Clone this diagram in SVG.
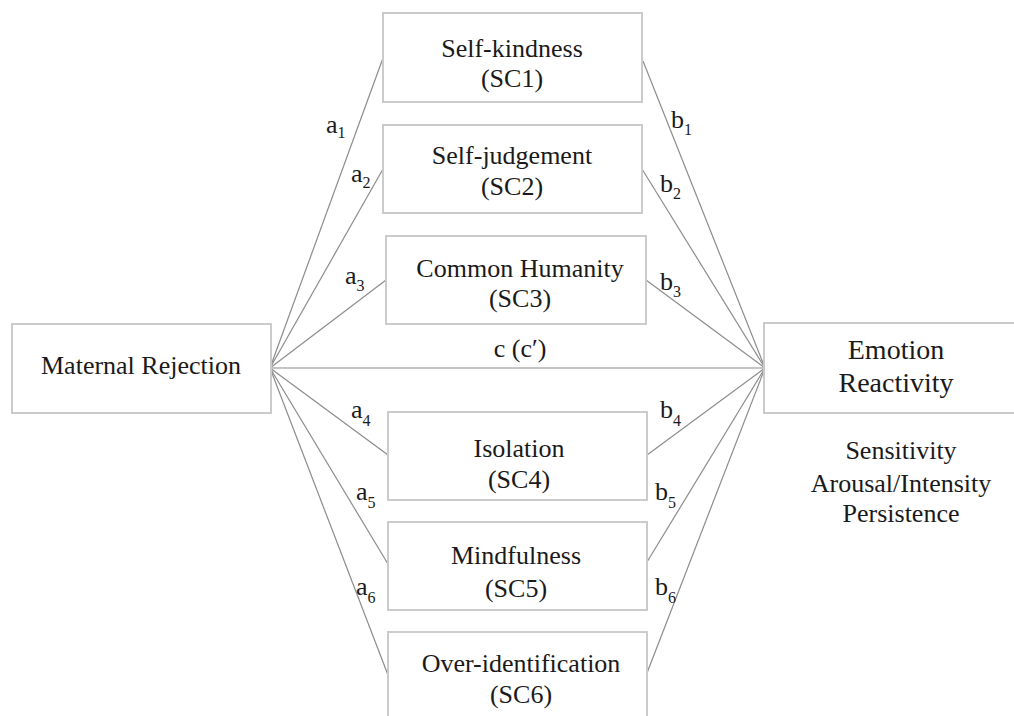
<svg xmlns="http://www.w3.org/2000/svg" width="1014" height="716" viewBox="0 0 1014 716">
<style>
.box{fill:#fff;stroke:#cbcbcb;stroke-width:2}
.t{font-family:"Liberation Serif","Times New Roman",serif;font-size:26px;fill:#1a1a1a;text-anchor:middle}
.l{font-family:"Liberation Serif","Times New Roman",serif;font-size:26px;fill:#1a1a1a}
.s{font-size:16px}
.c{stroke:#8c8c8c;stroke-width:1.2;fill:none}
</style>
<rect width="1014" height="716" fill="#fff"/>
<g id="connectors">
<line class="c" x1="270" y1="368" x2="383" y2="58"/>
<line class="c" x1="270" y1="368" x2="383" y2="169"/>
<line class="c" x1="270" y1="368" x2="386" y2="280"/>
<line class="c" x1="270" y1="368" x2="765" y2="368"/>
<line class="c" x1="270" y1="368" x2="388" y2="455"/>
<line class="c" x1="270" y1="368" x2="388" y2="564"/>
<line class="c" x1="270" y1="368" x2="388" y2="675"/>
<line class="c" x1="643" y1="61" x2="765" y2="368"/>
<line class="c" x1="642" y1="169" x2="765" y2="368"/>
<line class="c" x1="646" y1="280" x2="765" y2="368"/>
<line class="c" x1="647" y1="455" x2="765" y2="368"/>
<line class="c" x1="647" y1="562" x2="765" y2="368"/>
<line class="c" x1="647" y1="673" x2="765" y2="368"/>
<text class="l" x="326" y="133">a<tspan class="s" dy="5">1</tspan></text>
<text class="l" x="351" y="182">a<tspan class="s" dy="6">2</tspan></text>
<text class="l" x="345" y="284">a<tspan class="s" dy="7">3</tspan></text>
<text class="l" x="351" y="418">a<tspan class="s" dy="8">4</tspan></text>
<text class="l" x="356" y="500">a<tspan class="s" dy="8">5</tspan></text>
<text class="l" x="356" y="595">a<tspan class="s" dy="8">6</tspan></text>
<text class="l" x="671" y="128">b<tspan class="s" dy="7">1</tspan></text>
<text class="l" x="660" y="192">b<tspan class="s" dy="7">2</tspan></text>
<text class="l" x="660" y="290">b<tspan class="s" dy="7">3</tspan></text>
<text class="l" x="660" y="418">b<tspan class="s" dy="8">4</tspan></text>
<text class="l" x="655" y="500">b<tspan class="s" dy="8">5</tspan></text>
<text class="l" x="655" y="595">b<tspan class="s" dy="8">6</tspan></text>
<text class="t" x="520" y="357">c (c′)</text>
</g>
<g id="maternal">
<rect class="box" x="12" y="324" width="259" height="89"/>
<text class="t" x="141" y="374">Maternal Rejection</text>
</g>
<g id="emotion">
<rect class="box" x="764" y="323" width="262" height="90"/>
<text class="t" x="896" y="359" style="font-size:28px">Emotion</text>
<text class="t" x="896" y="392" style="font-size:28px">Reactivity</text>
<text class="t" x="901" y="459">Sensitivity</text>
<text class="t" x="901" y="492">Arousal/Intensity</text>
<text class="t" x="901" y="522">Persistence</text>
</g>
<g id="sc1">
<rect class="box" x="383" y="13" width="259" height="89"/>
<text class="t" x="512" y="57">Self-kindness</text>
<text class="t" x="512" y="87">(SC1)</text>
</g>
<g id="sc2">
<rect class="box" x="383" y="125" width="259" height="88"/>
<text class="t" x="512" y="164">Self-judgement</text>
<text class="t" x="512" y="195">(SC2)</text>
</g>
<g id="sc3">
<rect class="box" x="386" y="236" width="260" height="88"/>
<text class="t" x="520" y="277">Common Humanity</text>
<text class="t" x="520" y="307">(SC3)</text>
</g>
<g id="sc4">
<rect class="box" x="388" y="412" width="259" height="88"/>
<text class="t" x="519" y="457">Isolation</text>
<text class="t" x="519" y="488">(SC4)</text>
</g>
<g id="sc5">
<rect class="box" x="388" y="522" width="259" height="88"/>
<text class="t" x="516" y="564">Mindfulness</text>
<text class="t" x="516" y="597">(SC5)</text>
</g>
<g id="sc6">
<rect class="box" x="388" y="632" width="259" height="90"/>
<text class="t" x="521" y="672">Over-identification</text>
<text class="t" x="521" y="703">(SC6)</text>
</g>
</svg>
